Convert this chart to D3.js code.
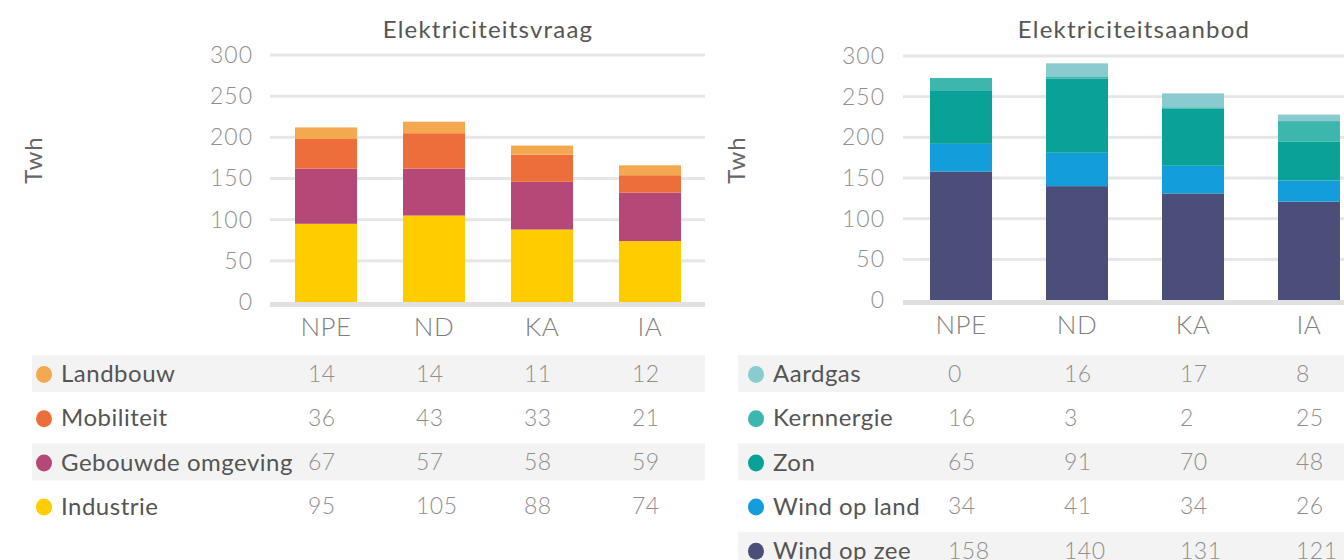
<!DOCTYPE html>
<html>
<head>
<meta charset="utf-8">
<script src="https://cdn.jsdelivr.net/npm/d3@7"></script>
<style>
  html, body { margin: 0; padding: 0; background: #fff; }
  svg { display: block; font-family: Lato, "Open Sans", sans-serif; }
</style>
</head>
<body>
<svg id="chart" width="1344" height="560"></svg>
<script>
// Scenarios shown on the x axis
const categories = ["NPE", "ND", "KA", "IA"];
const yTicks = [0, 50, 100, 150, 200, 250, 300];

// Electricity demand (TWh), listed top-of-stack first
const demandSeries = ["Landbouw", "Mobiliteit", "Gebouwde omgeving", "Industrie"];
const landbouw = [14, 14, 11, 12];
const mobiliteit = [36, 43, 33, 21];
const gebouwdeOmgeving = [67, 57, 58, 59];
const industrie = [95, 105, 88, 74];
const demandColors = ["#f4a84f", "#ee6e3b", "#b54877", "#ffcc00"];

// Electricity supply (TWh), listed top-of-stack first
const supplySeries = ["Aardgas", "Kernnergie", "Zon", "Wind op land", "Wind op zee"];
const aardgas = [0, 16, 17, 8];
const kernenergie = [16, 3, 2, 25];
const zon = [65, 91, 70, 48];
const windOpLand = [34, 41, 34, 26];
const windOpZee = [158, 140, 131, 121];
const supplyColors = ["#8acbd0", "#3db6ae", "#0aa199", "#139edb", "#4a4e79"];

const svg = d3.select("#chart");

function drawPanel(cfg) {
  const g = svg.append("g");
  const rows = cfg.series.map((name, i) => ({ name, values: cfg.values[i], color: cfg.colors[i] }));

  const x = d3.scaleBand()
    .domain(categories)
    .range(cfg.xRange)
    .paddingInner(cfg.padInner)
    .paddingOuter(cfg.padOuter);
  const y = d3.scaleLinear().domain([0, 300]).range(cfg.yRange);

  // grid lines
  g.append("g").selectAll("rect.grid")
    .data(yTicks.filter(t => t > 0))
    .join("rect")
    .attr("x", cfg.gridX[0])
    .attr("width", cfg.gridX[1] - cfg.gridX[0])
    .attr("y", d => y(d) - 1.5)
    .attr("height", 3)
    .attr("fill", "#e6e6e6");
  // base line
  g.append("rect")
    .attr("x", cfg.gridX[0])
    .attr("width", cfg.gridX[1] - cfg.gridX[0])
    .attr("y", y(0))
    .attr("height", 5)
    .attr("fill", "#e0e0e0");

  // y axis tick labels
  const yAxis = d3.axisLeft(y).tickValues(yTicks).tickSize(0).tickPadding(0);
  const ya = g.append("g").attr("transform", `translate(${cfg.tickRight},0)`).call(yAxis);
  ya.select(".domain").remove();
  ya.selectAll("text")
    .attr("font-family", "Lato, sans-serif")
    .attr("font-size", 23)
    .attr("font-weight", 300)
    .attr("letter-spacing", 1)
    .attr("fill", "#8f8f8f");

  // x axis category labels
  const xAxis = d3.axisBottom(x).tickSize(0).tickPadding(0);
  const xa = g.append("g").attr("transform", `translate(0,${cfg.catY})`).call(xAxis);
  xa.select(".domain").remove();
  xa.selectAll("text")
    .attr("font-family", "Lato, sans-serif")
    .attr("font-size", 26)
    .attr("font-weight", 300)
    .attr("letter-spacing", 0.5)
    .attr("fill", "#7f7f7f");

  // stacked bars: bottom series is the last row
  const stackOrder = rows.slice().reverse();
  const tableData = categories.map((c, ci) => {
    const o = { cat: c };
    stackOrder.forEach(r => { o[r.name] = r.values[ci]; });
    return o;
  });
  const stacked = d3.stack().keys(stackOrder.map(r => r.name))(tableData);
  g.append("g").selectAll("g.layer")
    .data(stacked)
    .join("g")
    .attr("fill", (d, i) => stackOrder[i].color)
    .selectAll("rect")
    .data(d => d)
    .join("rect")
    .attr("x", d => x(d.data.cat))
    .attr("width", x.bandwidth())
    .attr("y", d => y(d[1]))
    .attr("height", d => y(d[0]) - y(d[1]));

  // titles
  g.append("text")
    .attr("x", cfg.titleX)
    .attr("y", 38)
    .attr("text-anchor", "middle")
    .attr("font-size", 24)
    .attr("letter-spacing", 1.2)
    .attr("fill", "#555")
    .text(cfg.title);
  g.append("text")
    .attr("transform", `translate(${cfg.unitX},160) rotate(-90)`)
    .attr("text-anchor", "middle")
    .attr("font-size", 24)
    .attr("letter-spacing", 1)
    .attr("fill", "#666")
    .text("Twh");

  // data table below the chart
  const rowY = i => 373.5 + i * 44.2;
  const tr = g.append("g").selectAll("g.row")
    .data(rows)
    .join("g")
    .attr("transform", (d, i) => `translate(0,${rowY(i)})`);
  tr.filter((d, i) => i % 2 === 0)
    .append("rect")
    .attr("x", cfg.tableX[0])
    .attr("width", cfg.tableX[1] - cfg.tableX[0])
    .attr("y", -18.5)
    .attr("height", 37)
    .attr("fill", "#f3f3f3");
  tr.append("ellipse")
    .attr("cx", cfg.tableX[0] + cfg.dotOffset)
    .attr("cy", 1)
    .attr("rx", 8)
    .attr("ry", 8.5)
    .attr("fill", d => d.color);
  tr.append("text")
    .attr("x", cfg.tableX[0] + cfg.dotOffset + 17)
    .attr("y", 0)
    .attr("dy", "0.36em")
    .attr("font-size", 24)
    .attr("letter-spacing", 0.5)
    .attr("fill", "#555")
    .text(d => d.name);
  tr.selectAll("text.val")
    .data(d => d.values.map((v, ci) => ({ v, cat: categories[ci] })))
    .join("text")
    .attr("class", "val")
    .attr("x", d => x(d.cat) + x.bandwidth() / 2 + cfg.valOffset)
    .attr("y", 0)
    .attr("dy", "0.36em")
    .attr("font-size", 23)
    .attr("font-weight", 300)
    .attr("letter-spacing", 0.5)
    .attr("fill", "#8f8f8f")
    .text(d => d.v);
}

drawPanel({
  title: "Elektriciteitsvraag",
  series: demandSeries,
  values: [landbouw, mobiliteit, gebouwdeOmgeving, industrie],
  colors: demandColors,
  xRange: [272, 704], padInner: 0.426, padOuter: 0.213,
  yRange: [302, 55],
  gridX: [270, 705],
  tickRight: 253,
  catY: 318,
  titleX: 488,
  unitX: 42,
  tableX: [32, 705],
  dotOffset: 12,
  valOffset: -18
});

drawPanel({
  title: "Elektriciteitsaanbod",
  series: supplySeries,
  values: [aardgas, kernenergie, zon, windOpLand, windOpZee],
  colors: supplyColors,
  xRange: [903, 1367], padInner: 0.4655, padOuter: 0.233,
  yRange: [300, 56],
  gridX: [903, 1344],
  tickRight: 885,
  catY: 316,
  titleX: 1134,
  unitX: 745,
  tableX: [738, 1344],
  dotOffset: 18,
  valOffset: -13
});
</script>
</body>
</html>
